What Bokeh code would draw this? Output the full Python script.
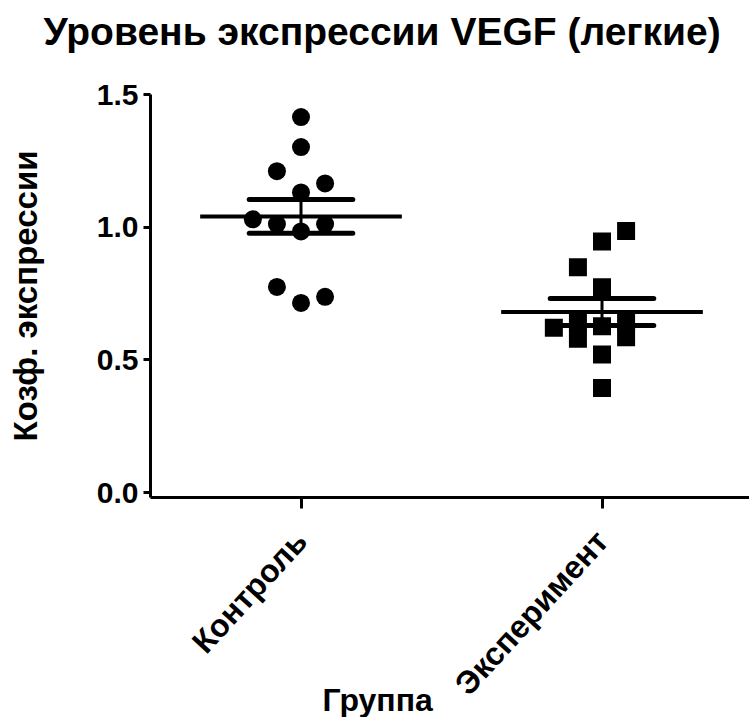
import numpy as np
from math import pi
from bokeh.plotting import figure
from bokeh.models import Range1d, FixedTicker, Title
from bokeh.embed import file_html
from bokeh.resources import INLINE

# ---- data ----
groups = ["Контроль", "Эксперимент"]
group_pos = [1, 2]
control_values = [1.415, 1.302, 1.211, 1.165, 1.131, 1.030, 1.012, 1.012, 0.984, 0.775, 0.715, 0.738]
control_cols = [0, 0, -1, 1, 0, -2, -1, 1, 0, -1, 0, 1]
experiment_values = [0.986, 0.946, 0.849, 0.774, 0.621, 0.642, 0.580, 0.627, 0.521, 0.394, 0.644, 0.586]
experiment_cols = [1, 0, -1, 0, -2, -1, -1, 0, 0, 0, 1, 1]
y_ticks = [0.0, 0.5, 1.0, 1.5]
y_tick_labels = ["0.0", "0.5", "1.0", "1.5"]
title_text = "Уровень экспрессии VEGF (легкие)"
x_label = "Группа"
y_label = "Козф. экспрессии"

FONT = "Liberation Sans"
COL_STEP = 0.08
MEAN_HALF = 0.335
SEM_HALF = 0.172

p = figure(width=749, height=717,
           x_range=Range1d(0.5, 2.49), y_range=Range1d(-0.018, 1.5),
           output_backend="svg", toolbar_location=None,
           min_border_left=150, min_border_right=0,
           min_border_top=94, min_border_bottom=219)
p.outline_line_color = None
p.grid.visible = False
p.background_fill_color = "white"
p.border_fill_color = "white"

# spacer between frame and title (nearest to the frame)
p.add_layout(Title(text=" ", text_font_size="10px", standoff=29), "above")

# title (outermost)
p.title.text = title_text
p.title.align = "left"
p.title.offset = -107
p.title.standoff = 0
p.title.text_font = FONT
p.title.text_font_style = "bold"
p.title.text_font_size = "39px"
p.title.text_color = "black"

# points
cx = [group_pos[0] + c * COL_STEP for c in control_cols]
ex = [group_pos[1] + c * COL_STEP for c in experiment_cols]
p.scatter(x=cx, y=control_values, marker="circle", size=18,
          fill_color="black", line_color="black", line_width=0)
p.scatter(x=ex, y=experiment_values, marker="square", size=18,
          fill_color="black", line_color="black", line_width=0)

# mean and SEM
for pos, vals in zip(group_pos, [control_values, experiment_values]):
    arr = np.array(vals)
    m = arr.mean()
    sem = arr.std(ddof=1) / np.sqrt(len(arr))
    p.segment(x0=[pos - MEAN_HALF], y0=[m], x1=[pos + MEAN_HALF], y1=[m],
              line_color="black", line_width=4)
    p.segment(x0=[pos - SEM_HALF, pos - SEM_HALF], y0=[m + sem, m - sem],
              x1=[pos + SEM_HALF, pos + SEM_HALF], y1=[m + sem, m - sem],
              line_color="black", line_width=5, line_cap="round")
    p.segment(x0=[pos], y0=[m - sem], x1=[pos], y1=[m + sem],
              line_color="black", line_width=3)

# axes
xa = p.xaxis[0]
xa.ticker = FixedTicker(ticks=group_pos)
xa.major_label_overrides = {g: lab for g, lab in zip(group_pos, groups)}
xa.major_label_orientation = 0.83
xa.major_label_text_font = FONT
xa.major_label_text_font_style = "bold"
xa.major_label_text_font_size = "32px"
xa.major_label_text_color = "black"
xa.axis_line_width = 3
xa.axis_line_color = "black"
xa.major_tick_line_width = 3
xa.major_tick_line_color = "black"
xa.major_tick_out = 11
xa.major_tick_in = 0
xa.minor_tick_line_color = None
xa.major_label_standoff = 27

ya = p.yaxis[0]
ya.ticker = FixedTicker(ticks=y_ticks)
ya.major_label_overrides = {t: s for t, s in zip(y_ticks, y_tick_labels)}
ya.major_label_text_font = FONT
ya.major_label_text_font_style = "bold"
ya.major_label_text_font_size = "30px"
ya.major_label_text_color = "black"
ya.axis_line_width = 3
ya.axis_line_color = "black"
ya.major_tick_line_width = 3
ya.major_tick_line_color = "black"
ya.major_tick_out = 7
ya.major_tick_in = 0
ya.minor_tick_line_color = None
ya.major_label_standoff = 5
ya.axis_label = y_label
ya.axis_label_text_font = FONT
ya.axis_label_text_font_style = "bold"
ya.axis_label_text_font_size = "33px"
ya.axis_label_text_color = "black"
ya.axis_label_standoff = 50

p.add_layout(Title(text=x_label, align="left", offset=172, standoff=-72,
                   vertical_align="top",
                   text_font=FONT, text_font_style="bold",
                   text_font_size="32px", text_color="black"), "below")

open("out.html", "w").write(file_html(p, INLINE))
